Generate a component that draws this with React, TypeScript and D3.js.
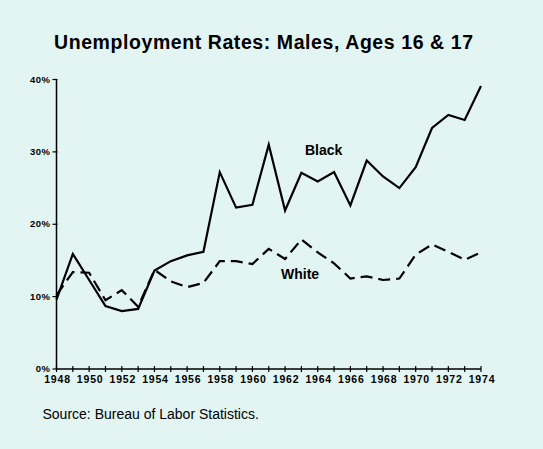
import React from "react";
import * as d3 from "d3";

const years = d3.range(1948, 1975);
const black = [9.6, 15.9, 12.3, 8.7, 8.0, 8.3, 13.6, 14.9, 15.7, 16.2, 27.2, 22.3, 22.7, 31.0, 21.9, 27.1, 25.9, 27.2, 22.6, 28.8, 26.6, 25.0, 27.9, 33.3, 35.1, 34.4, 39.1];
const white = [10.2, 13.4, 13.3, 9.5, 10.9, 8.6, 13.7, 12.1, 11.3, 11.9, 14.9, 14.9, 14.5, 16.6, 15.2, 17.9, 16.1, 14.6, 12.5, 12.8, 12.3, 12.5, 15.8, 17.2, 16.2, 15.1, 16.1];
const yTicks = [0, 10, 20, 30, 40];
const labelYears = d3.range(1948, 1975, 2);
const title = "Unemployment Rates: Males, Ages 16 & 17";
const source = "Source: Bureau of Labor Statistics.";

const W = 543;
const H = 449;
const BG = "#e3f5f2";
const FONT = "'Liberation Sans', Arial, sans-serif";

export default function App() {
  const x = d3.scaleLinear().domain([1948, 1974]).range([56.5, 481]);
  const y = d3.scaleLinear().domain([0, 40]).range([369, 79.5]);
  const line = d3
    .line<number>()
    .x((_, i) => x(years[i]))
    .y((d) => y(d));

  return (
    <div style={{ position: "fixed", left: 0, top: 0, width: W, height: H, background: BG }}>
      <svg width={W} height={H} style={{ display: "block" }}>
        <rect x={0} y={0} width={W} height={H} fill={BG} />
        <text x={54} y={49} textLength={419} lengthAdjust="spacing" fontFamily={FONT} fontWeight="bold" fontSize={19.5} fill="#000">
          {title}
        </text>
        {/* y axis */}
        <line x1={x(1948)} x2={x(1948)} y1={y(40)} y2={y(0)} stroke="#000" strokeWidth={1.5} />
        {yTicks.map((t) => (
          <g key={t}>
            <line x1={x(1948) - 4} x2={x(1948) + 1} y1={y(t)} y2={y(t)} stroke="#000" strokeWidth={1.2} />
            <text x={50.5} y={y(t) + 3} textAnchor="end" fontFamily={FONT} fontWeight="bold" fontSize={9.5} letterSpacing={0.5} fill="#000">
              {t + "%"}
            </text>
          </g>
        ))}
        {/* x axis */}
        <line x1={x(1948)} x2={x(1974)} y1={y(0)} y2={y(0)} stroke="#000" strokeWidth={1.5} />
        {years.map((yr) => (
          <line key={yr} x1={x(yr)} x2={x(yr)} y1={y(0) - 3} y2={y(0) + 3} stroke="#000" strokeWidth={1.2} />
        ))}
        {labelYears.map((yr) => (
          <text key={yr} x={x(yr) + 1} y={382.5} textAnchor="middle" fontFamily={FONT} fontWeight="bold" fontSize={10.5} letterSpacing={0.8} fill="#000">
            {yr}
          </text>
        ))}
        {/* series */}
        <path d={line(white) || ""} fill="none" stroke="#000" strokeWidth={2.2} strokeDasharray="12,6" />
        <path d={line(black) || ""} fill="none" stroke="#000" strokeWidth={2.2} strokeLinejoin="miter" />
        <text x={305} y={155} fontFamily={FONT} fontWeight="bold" fontSize={14} fill="#000">
          Black
        </text>
        <text x={281} y={278.5} fontFamily={FONT} fontWeight="bold" fontSize={14} fill="#000">
          White
        </text>
        <text x={42.5} y={419} fontFamily={FONT} fontSize={14} fill="#000">
          {source}
        </text>
      </svg>
    </div>
  );
}
